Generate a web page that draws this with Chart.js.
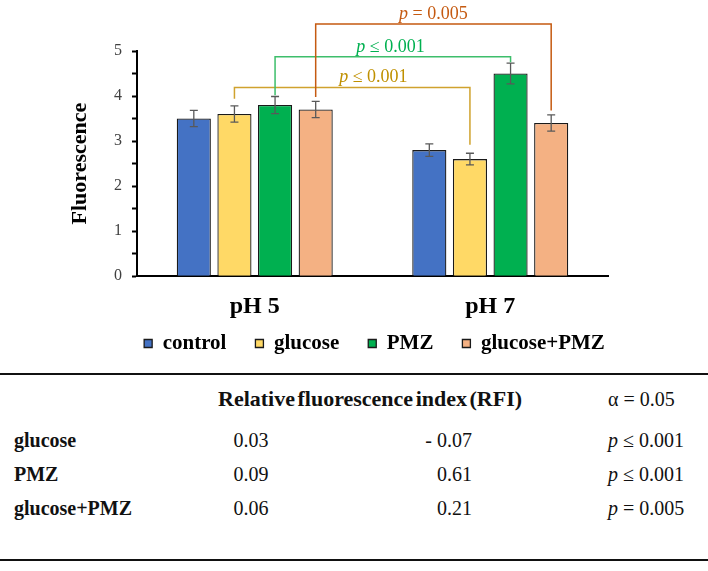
<!DOCTYPE html>
<html>
<head>
<meta charset="utf-8">
<script src="https://cdn.jsdelivr.net/npm/chart.js@4.4.1/dist/chart.umd.min.js"></script>
<style>
  html, body { margin: 0; padding: 0; background: #fff; }
  body { width: 708px; height: 571px; position: relative; overflow: hidden;
         font-family: "Liberation Serif", "Times New Roman", serif; color: #111; }
  #chartBox { position: absolute; left: 0; top: 0; width: 708px; height: 389px; z-index: 2; }
  #rfi { position: absolute; left: 0; top: 373px; width: 708px; table-layout: fixed;
         border-collapse: separate; border-spacing: 0;
         border-top: 2px solid #111; border-bottom: 2px solid #111; font-size: 20px; z-index: 1; }
  #rfi td { padding: 0; white-space: nowrap; vertical-align: middle; }
  #rfi tr { height: 34px; }
  #rfi tr.head { height: 48px; }
  #rfi td.name { padding-left: 14px; font-weight: bold; }
  #rfi td.v5 { text-align: center; }
  #rfi td.v7 { text-align: right; padding-right: 6px; }
  #rfi td.p { padding-left: 130px; }
  #rfi td.title { padding-left: 24px; font-weight: bold; font-size: 22px; word-spacing: -3px; }
</style>
</head>
<body>
<div id="chartBox"><canvas id="bars"></canvas></div>
<table id="rfi">
  <colgroup><col style="width:194px"><col style="width:114px"><col style="width:170px"><col style="width:230px"></colgroup>
  <tbody id="rfiBody"></tbody>
</table>
<script>
// chart data
var categories = ["pH 5", "pH 7"];
var seriesNames = ["control", "glucose", "PMZ", "glucose+PMZ"];
var controlValues = [3.5, 2.8];
var glucoseValues = [3.6, 2.6];
var pmzValues = [3.8, 4.5];
var mixValues = [3.7, 3.4];
var controlErrors = [0.18, 0.14];
var glucoseErrors = [0.18, 0.13];
var pmzErrors = [0.19, 0.23];
var mixErrors = [0.18, 0.18];

// significance brackets (series index, level, left end, right end, label)
var bracketSeries = [1, 2, 3];
var bracketLevels = [4.19, 4.87, 5.6];
var bracketLeftEnds = [3.94, 4.02, 3.98];
var bracketRightEnds = [2.92, 4.75, 3.68];
var bracketLabels = ["p ≤ 0.001", "p ≤ 0.001", "p = 0.005"];

// RFI table
var rfiHeader = "Relative fluorescence index (RFI)";
var rfiAlpha = "α = 0.05";
var rfiTreatments = ["glucose", "PMZ", "glucose+PMZ"];
var rfiPH5 = ["0.03", "0.09", "0.06"];
var rfiPH7 = ["- 0.07", "0.61", "0.21"];
var rfiP = ["p ≤ 0.001", "p ≤ 0.001", "p = 0.005"];

var serif = "'Liberation Serif', 'Times New Roman', serif";
var barColors = ["#4472C4", "#FFD966", "#00B050", "#F4B183"];
var bracketLine = ["#D0A22E", "#3DBE6B", "#C55A11"];
var bracketText = ["#BF9000", "#00B050", "#C55A11"];
var labelAlong = [0.59, 0.49, 0.5];
var legendLift = 25;

function italicP(s) {
  return s.replace(/^p/, "<i>p</i>");
}

var body = document.getElementById("rfiBody");
var head = "<tr class='head'><td></td><td class='title' colspan='2'>" + rfiHeader +
  "</td><td class='p'>" + rfiAlpha + "</td></tr>";
var rows = "";
for (var i = 0; i < rfiTreatments.length; i++) {
  rows += "<tr><td class='name'>" + rfiTreatments[i] + "</td><td class='v5'>" + rfiPH5[i] +
    "</td><td class='v7'>" + rfiPH7[i] + "</td><td class='p'>" + italicP(rfiP[i]) + "</td></tr>";
}
body.innerHTML = head + rows + "<tr><td></td><td></td><td></td><td></td></tr>";

var errorBars = {
  id: "errorBars",
  afterDatasetsDraw: function (chart) {
    var ctx = chart.ctx, y = chart.scales.y;
    ctx.save();
    ctx.strokeStyle = "#595959";
    ctx.lineWidth = 1.3;
    chart.data.datasets.forEach(function (ds, i) {
      chart.getDatasetMeta(i).data.forEach(function (bar, j) {
        var top = y.getPixelForValue(ds.data[j] + ds.errors[j]);
        var bot = y.getPixelForValue(ds.data[j] - ds.errors[j]);
        ctx.beginPath();
        ctx.moveTo(bar.x, top); ctx.lineTo(bar.x, bot);
        ctx.moveTo(bar.x - 4, top); ctx.lineTo(bar.x + 4, top);
        ctx.moveTo(bar.x - 4, bot); ctx.lineTo(bar.x + 4, bot);
        ctx.stroke();
      });
    });
    ctx.restore();
  }
};

var brackets = {
  id: "brackets",
  afterLayout: function (chart) {
    chart.legend.top -= legendLift;
    chart.legend.bottom -= legendLift;
  },
  afterDatasetsDraw: function (chart) {
    var ctx = chart.ctx, y = chart.scales.y;
    ctx.save();
    bracketSeries.forEach(function (s, k) {
      var bars = chart.getDatasetMeta(s).data;
      var x1 = bars[0].x, x2 = bars[1].x;
      var yl = y.getPixelForValue(bracketLevels[k]);
      ctx.strokeStyle = bracketLine[k];
      ctx.lineWidth = 1.5;
      ctx.beginPath();
      ctx.moveTo(x1, y.getPixelForValue(bracketLeftEnds[k]));
      ctx.lineTo(x1, yl);
      ctx.lineTo(x2, yl);
      ctx.lineTo(x2, y.getPixelForValue(bracketRightEnds[k]));
      ctx.stroke();

      // label: italic p + rest
      var rest = bracketLabels[k].slice(1);
      ctx.font = "italic 18px " + serif;
      var wp = ctx.measureText("p").width;
      ctx.font = "18px " + serif;
      var wr = ctx.measureText(rest).width;
      var cx = x1 + labelAlong[k] * (x2 - x1);
      var tx = cx - (wp + wr) / 2;
      ctx.fillStyle = bracketText[k];
      ctx.textBaseline = "alphabetic";
      ctx.textAlign = "left";
      ctx.font = "italic 18px " + serif;
      ctx.fillText("p", tx, yl - 5);
      ctx.font = "18px " + serif;
      ctx.fillText(rest, tx + wp, yl - 5);
    });
    ctx.restore();
  }
};

var valueSets = [controlValues, glucoseValues, pmzValues, mixValues];
var errorSets = [controlErrors, glucoseErrors, pmzErrors, mixErrors];

var ctx = document.getElementById("bars").getContext("2d");
var myChart = new Chart(ctx, {
  type: "bar",
  data: {
    labels: categories,
    datasets: seriesNames.map(function (name, i) {
      return {
        label: name,
        data: valueSets[i],
        errors: errorSets[i],
        backgroundColor: barColors[i],
        borderColor: "#1a1a1a",
        borderWidth: 1.3,
        barPercentage: 0.84,
        categoryPercentage: 0.69
      };
    })
  },
  options: {
    responsive: true,
    maintainAspectRatio: false,
    animation: false,
    layout: { padding: { left: 41, right: 0, top: 51, bottom: 0 } },
    plugins: {
      legend: {
        position: "bottom",
        labels: {
          boxWidth: 8,
          boxHeight: 8,
          padding: 29,
          color: "#000",
          font: { family: serif, size: 21, weight: "bold" }
        }
      },
      tooltip: { enabled: false }
    },
    scales: {
      x: {
        grid: { display: false },
        border: { display: true, color: "#000", width: 2 },
        ticks: { color: "#000", padding: 8, font: { family: serif, size: 24, weight: "bold" } }
      },
      y: {
        min: 0,
        max: 5,
        ticks: {
          stepSize: 0.5,
          autoSkip: false,
          padding: 10,
          color: "#404040",
          font: { family: serif, size: 16 },
          callback: function (v) { return Number.isInteger(v) ? v : ""; }
        },
        grid: { display: true, drawOnChartArea: false, drawTicks: true, tickLength: 5, tickColor: "#000", tickWidth: 2 },
        border: { display: true, color: "#000", width: 2 },
        title: {
          display: true,
          text: "Fluorescence",
          color: "#000",
          font: { family: serif, size: 22, weight: "bold" },
          padding: { top: 26, bottom: 0 }
        },
        afterFit: function (s) { s.width = 96; }
      },
      y2: {
        position: "right",
        display: true,
        grid: { display: false },
        border: { display: false },
        ticks: { display: false },
        afterFit: function (s) { s.width = 100; }
      }
    }
  },
  plugins: [errorBars, brackets]
});
</script>
</body>
</html>
